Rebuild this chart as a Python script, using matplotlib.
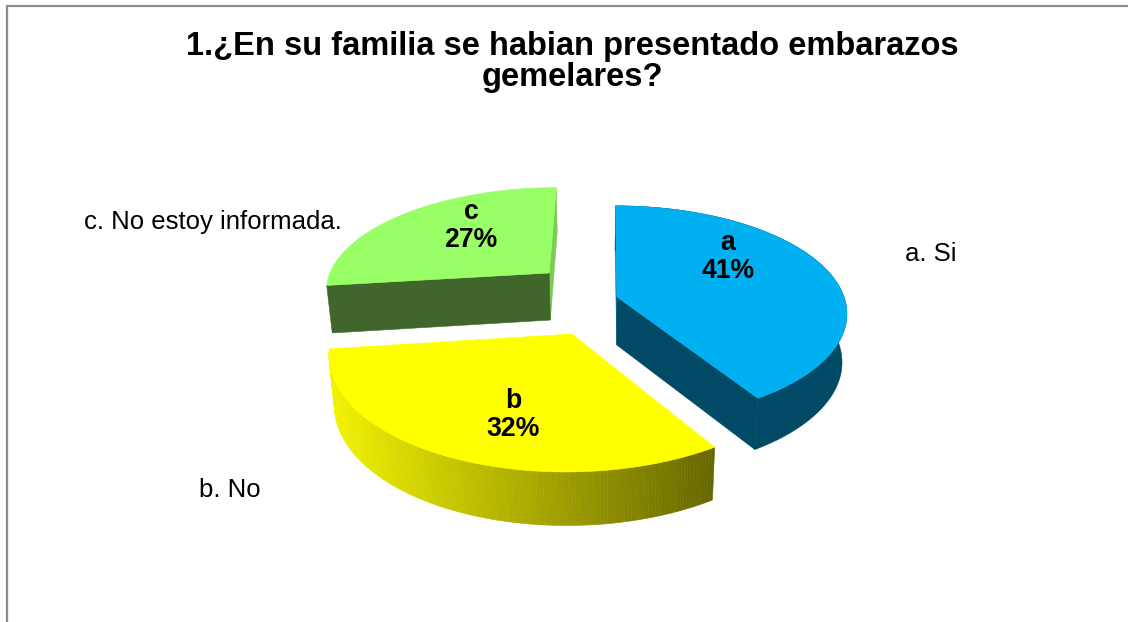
import numpy as np
import matplotlib
matplotlib.use("Agg")
import matplotlib.pyplot as plt
from matplotlib.patches import Polygon
from matplotlib.colors import to_rgb

# Data
letters = ["a", "b", "c"]
categories = ["a. Si", "b. No", "c. No estoy informada."]
values = [41, 32, 27]
title = "1.¿En su familia se habian presentado embarazos\ngemelares?"

# Style
top_colors = ["#00B0F0", "#FFFF00", "#99FF66"]
side_colors = ["#004A66", "#666600", "#40662B"]
explode = [(12, -6.5), (-31.5, 70), (-58, -60.6)]  # per-slice explosion
R, P, Q = 228.0, 0.00066, 0.4635       # radius and perspective
CX, CY = 605.0, 300.0                  # vanishing x, pie centre y
DEPTH, SHRINK = 48.0, 0.98

plt.rcParams["font.family"] = ["Liberation Sans", "DejaVu Sans"]
fig = plt.figure(figsize=(11.28, 6.22), dpi=100)
ax = fig.add_axes([0, 0, 1, 1])
ax.set_xlim(0, 1128)
ax.set_ylim(622, 0)
ax.axis("off")

# chart frame
ax.plot([6.5, 6.5, 1128], [622, 5.5, 5.5], color="#8C8C8C", lw=1.6, solid_joinstyle="miter")


def project(X, Y, lower=False):
    w = 1.0 / (1.0 - P * Y)
    sx = CX + X * w
    sy = CY + Q * Y * w
    if lower:
        sx = CX + (sx - CX) * SHRINK
        sy = sy + DEPTH * np.sqrt(w)
    return sx, sy


def rim(off, t, lower=False):
    return project(off[0] + R * np.sin(t), off[1] - R * np.cos(t), lower)


def quad(pts, color, z):
    ax.add_patch(Polygon(pts, closed=True, fc=color, ec=color, lw=0.4, zorder=z))


fractions = np.array(values, float) / sum(values)
edges = np.concatenate([[0.0], np.cumsum(fractions)]) * 2 * np.pi

for i in [2, 0, 1]:
    t0, t1 = edges[i], edges[i + 1]
    off = explode[i]
    z = {2: 2, 0: 3, 1: 4}[i]
    ts = np.linspace(t0, t1, 160)
    apex_top = project(off[0], off[1])
    apex_low = project(off[0], off[1], True)
    arc_top = np.array([rim(off, t) for t in ts])
    arc_low = np.array([rim(off, t, True) for t in ts])

    if i == 2:  # green: right sliver and long cut face
        quad([arc_top[-1], arc_low[-1], apex_low, apex_top], "#7CCB55", z)
        quad([arc_top[0], arc_low[0], apex_low, apex_top], side_colors[i], z)
    elif i == 0:  # blue: cut face, sliver and flat rim
        quad([arc_top[0], arc_low[0], apex_low, apex_top], "#0A7FB0", z)
        quad([apex_top, apex_low, arc_low[-1], arc_top[-1]], side_colors[i], z)
        quad(list(arc_top) + list(arc_low[::-1]), side_colors[i], z)
    else:  # yellow: rim with horizontal shading
        bright, dark = np.array([0.95, 0.95, 0.0]), np.array(to_rgb(side_colors[i]))
        xa, xb = arc_top[:, 0].min(), arc_top[:, 0].max()
        for k in range(len(ts) - 1):
            f = ((arc_top[k, 0] + arc_top[k + 1, 0]) / 2 - xa) / (xb - xa)
            col = tuple(bright + (dark - bright) * f)
            quad([arc_top[k], arc_top[k + 1], arc_low[k + 1], arc_low[k]], col, z)

    ax.add_patch(Polygon([apex_top] + list(arc_top), closed=True, fc=top_colors[i],
                         ec=top_colors[i], lw=0.4, zorder=z + 0.5))

ax.text(572, 62, title, ha="center", va="center", fontsize=23.5, fontweight="bold",
        color="black", linespacing=1.0, zorder=6)

inner_pos = [(728, 257), (513, 415), (471, 226)]
for (x, y), let, v in zip(inner_pos, letters, values):
    ax.text(x, y, f"{let}\n{v}%", ha="center", va="center", fontsize=19.2, fontweight="bold",
            color="black", linespacing=1.1, zorder=6)

outer_pos = [(931, 254), (230, 490), (213, 222)]
for (x, y), c in zip(outer_pos, categories):
    ax.text(x, y, c, ha="center", va="center", fontsize=18.5, color="black", zorder=6)

fig.savefig("out.png", dpi=100, facecolor="white")
